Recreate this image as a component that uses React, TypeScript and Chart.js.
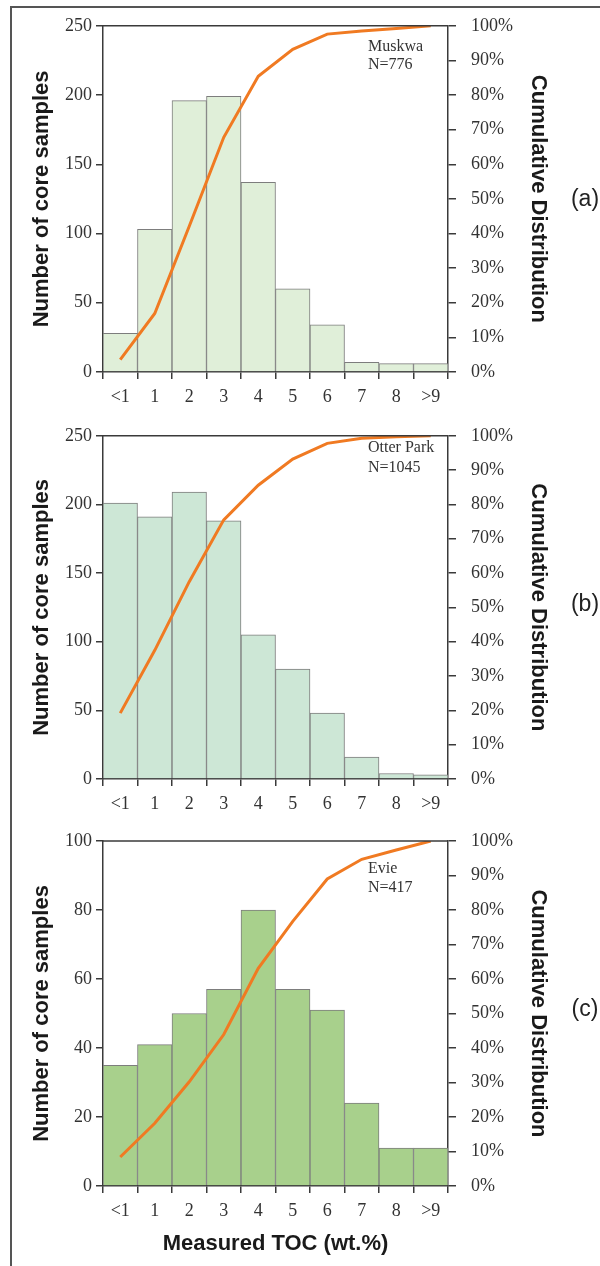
import React, { useEffect, useRef } from "react";
import { Chart, registerables } from "chart.js";

Chart.register(...registerables);

const categories = ["<1", "1", "2", "3", "4", "5", "6", "7", "8", ">9"];

const muskwaCounts = [28, 103, 196, 199, 137, 60, 34, 7, 6, 6];
const muskwaCumulative = [3.6, 16.9, 42.1, 67.8, 85.4, 93.2, 97.6, 98.5, 99.2, 100];

const otterParkCounts = [201, 191, 209, 188, 105, 80, 48, 16, 4, 3];
const otterParkCumulative = [19.2, 37.5, 57.5, 75.5, 85.6, 93.2, 97.8, 99.3, 99.7, 100];

const evieCounts = [35, 41, 50, 57, 80, 57, 51, 24, 11, 11];
const evieCumulative = [8.4, 18.2, 30.2, 43.9, 63.1, 76.7, 89.0, 94.7, 97.4, 100];

const leftTitle = "Number of core samples";
const rightTitle = "Cumulative Distribution";
const bottomTitle = "Measured TOC (wt.%)";

const SERIF = '"Liberation Serif", "Times New Roman", serif';
const SANS = '"Liberation Sans", Arial, sans-serif';
const AXIS = "#3a3a3a";

const panelTextPlugin = {
  id: "panelText",
  afterDraw(chart: any, _args: any, opts: any) {
    const { ctx, chartArea } = chart;
    ctx.save();
    ctx.strokeStyle = AXIS;
    ctx.lineWidth = 1.5;
    ctx.beginPath();
    ctx.moveTo(chartArea.left, chartArea.top);
    ctx.lineTo(chartArea.right, chartArea.top);
    ctx.stroke();
    ctx.fillStyle = "#333";
    ctx.font = `16px ${SERIF}`;
    ctx.textBaseline = "middle";
    ctx.textAlign = "left";
    (opts.lines || []).forEach((t: string, i: number) => {
      ctx.fillText(t, opts.x, opts.y + i * opts.gap);
    });
    ctx.font = `23px ${SANS}`;
    ctx.textAlign = "center";
    ctx.fillStyle = "#222";
    ctx.fillText(opts.tag, opts.tagX, opts.tagY);
    ctx.restore();
  },
};

type PanelProps = {
  counts: number[];
  cumulative: number[];
  maxCount: number;
  stepCount: number;
  barColor: string;
  top: number;
  height: number;
  padTop: number;
  xAxisHeight: number;
  label: string[];
  labelY: number;
  labelGap: number;
  tag: string;
  tagY: number;
  showXTitle: boolean;
};

function Panel(p: PanelProps) {
  const ref = useRef<HTMLCanvasElement | null>(null);
  useEffect(() => {
    if (!ref.current) return;
    const chart = new Chart(ref.current, {
      type: "bar",
      data: {
        labels: categories,
        datasets: [
          {
            type: "line",
            data: p.cumulative,
            yAxisID: "y2",
            borderColor: "#f07a22",
            borderWidth: 3,
            pointRadius: 0,
            tension: 0,
            order: 0,
          } as any,
          {
            type: "bar",
            data: p.counts,
            yAxisID: "y",
            backgroundColor: p.barColor,
            borderColor: "#7d7d7d",
            borderWidth: 1,
            barPercentage: 1,
            categoryPercentage: 1,
            order: 1,
          } as any,
        ],
      },
      options: {
        responsive: false,
        animation: false,
        layout: { padding: { top: p.padTop, left: 0, right: 0, bottom: 0 } },
        plugins: {
          legend: { display: false },
          tooltip: { enabled: false },
          panelText: {
            lines: p.label,
            x: 368,
            y: p.labelY,
            gap: p.labelGap,
            tag: p.tag,
            tagX: 585,
            tagY: p.tagY,
          },
        } as any,
        scales: {
          x: {
            type: "category",
            offset: true,
            grid: {
              offset: true,
              drawOnChartArea: false,
              drawTicks: true,
              tickLength: 7,
              color: AXIS,
              lineWidth: 1.5,
            },
            border: { display: true, color: AXIS, width: 1.5 },
            ticks: {
              color: "#333",
              font: { family: SERIF, size: 18 },
              padding: 7,
              maxRotation: 0,
              autoSkip: false,
            },
            title: {
              display: p.showXTitle,
              text: bottomTitle,
              color: "#1a1a1a",
              font: { family: SANS, size: 22, weight: "bold" },
              padding: { top: 0, bottom: 9 },
            },
            afterFit: (scale: any) => {
              scale.height = p.xAxisHeight;
            },
          },
          y: {
            position: "left",
            min: 0,
            max: p.maxCount,
            ticks: {
              stepSize: p.stepCount,
              color: "#333",
              font: { family: SERIF, size: 18 },
              padding: 4,
            },
            grid: {
              drawOnChartArea: false,
              drawTicks: true,
              tickLength: 7,
              color: AXIS,
              lineWidth: 1.5,
            },
            border: { display: true, color: AXIS, width: 1.5 },
            title: {
              display: true,
              text: leftTitle,
              color: "#1a1a1a",
              font: { family: SANS, size: 22, weight: "bold" },
              padding: { top: 29, bottom: 0 },
            },
            afterFit: (scale: any) => {
              scale.width = 103;
            },
          },
          y2: {
            position: "right",
            min: 0,
            max: 100,
            ticks: {
              stepSize: 10,
              color: "#333",
              font: { family: SERIF, size: 18 },
              padding: 15,
              callback: (v: any) => `${v}%`,
            },
            grid: {
              drawOnChartArea: false,
              drawTicks: true,
              tickLength: 8,
              color: AXIS,
              lineWidth: 1.5,
            },
            border: { display: true, color: AXIS, width: 1.5 },
            title: {
              display: true,
              text: rightTitle,
              color: "#1a1a1a",
              font: { family: SANS, size: 22, weight: "bold" },
              padding: { top: 49, bottom: 0 },
            },
            afterFit: (scale: any) => {
              scale.width = 152;
            },
          },
        },
      } as any,
      plugins: [panelTextPlugin as any],
    });
    return () => chart.destroy();
  }, []);
  return (
    <canvas
      ref={ref}
      width={600}
      height={p.height}
      style={{ position: "absolute", left: 0, top: p.top, width: 600, height: p.height }}
    />
  );
}

export default function App() {
  return (
    <div style={{ position: "absolute", left: 0, top: 0, width: 600, height: 1266, overflow: "hidden", background: "#fff" }}>
      <div
        style={{
          position: "absolute",
          left: 10,
          top: 6,
          width: 620,
          height: 1300,
          borderTop: "2px solid #555",
          borderLeft: "2px solid #555",
          boxSizing: "border-box",
        }}
      />
      <Panel
        counts={muskwaCounts}
        cumulative={muskwaCumulative}
        maxCount={250}
        stepCount={50}
        barColor="#e0efd9"
        top={0}
        height={410}
        padTop={25}
        xAxisHeight={38}
        label={["Muskwa", "N=776"]}
        labelY={47}
        labelGap={18}
        tag="(a)"
        tagY={200}
        showXTitle={false}
      />
      <Panel
        counts={otterParkCounts}
        cumulative={otterParkCumulative}
        maxCount={250}
        stepCount={50}
        barColor="#cde7d6"
        top={410}
        height={405}
        padTop={22}
        xAxisHeight={36}
        label={["Otter Park", "N=1045"]}
        labelY={38}
        labelGap={20}
        tag="(b)"
        tagY={195}
        showXTitle={false}
      />
      <Panel
        counts={evieCounts}
        cumulative={evieCumulative}
        maxCount={100}
        stepCount={20}
        barColor="#a8d08c"
        top={815}
        height={451}
        padTop={26}
        xAxisHeight={80}
        label={["Evie", "N=417"]}
        labelY={54}
        labelGap={19}
        tag="(c)"
        tagY={195}
        showXTitle={true}
      />
    </div>
  );
}
